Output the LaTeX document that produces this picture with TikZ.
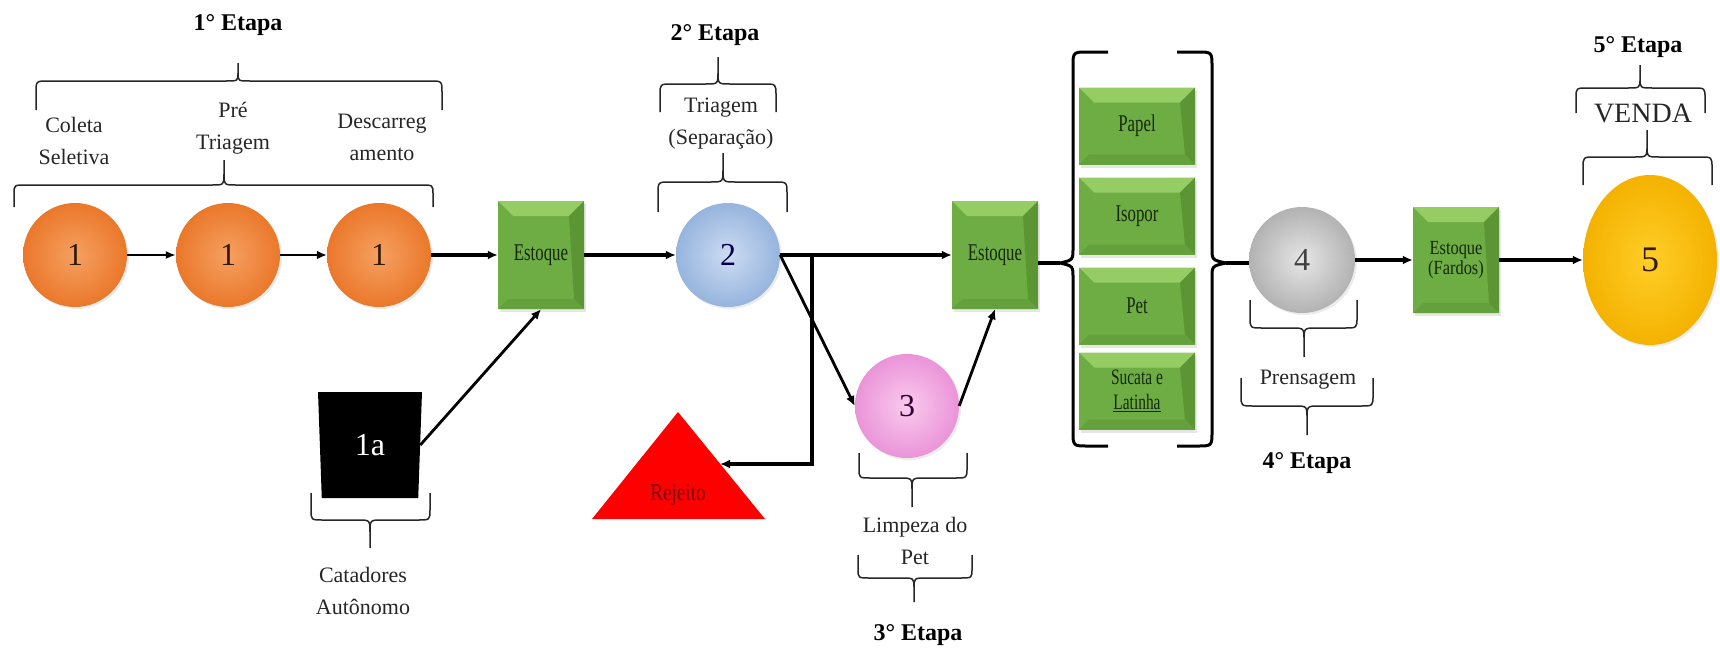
\documentclass[tikz,border=0pt]{standalone}
\usepackage{fontspec}
\setmainfont{Liberation Serif}
\usetikzlibrary{shapes.geometric,arrows.meta,shadows,calc}

\definecolor{orangeA}{RGB}{234,120,42}
\definecolor{orangeB}{RGB}{246,160,98}
\definecolor{blueA}{RGB}{150,180,222}
\definecolor{blueB}{RGB}{205,220,242}
\definecolor{pinkA}{RGB}{234,148,216}
\definecolor{pinkB}{RGB}{250,202,238}
\definecolor{grayA}{RGB}{178,178,178}
\definecolor{grayB}{RGB}{230,230,230}
\definecolor{goldA}{RGB}{244,178,0}
\definecolor{goldB}{RGB}{255,206,40}
\definecolor{greenA}{RGB}{110,172,68}
\definecolor{greenB}{RGB}{150,204,100}
\definecolor{greenC}{RGB}{100,160,60}
\definecolor{greenD}{RGB}{92,150,52}
\definecolor{boxtext}{RGB}{22,40,12}
\definecolor{rejtext}{RGB}{120,0,0}

% horizontally squeezed label text for the boxes
\newcommand{\sqz}[2][0.7]{\scalebox{#1}[1]{#2}}

% curly brace: x-left, x-right, x-cusp, y-ends, y-bar, y-cusp
\newcommand{\stagebrace}[6]{%
  \draw[bracestyle] (#1,#4) -- (#1,{#5+0.4*(#4-#5)})
    .. controls (#1,#5) .. ({#1+12},#5) -- ({#3-12},#5)
    .. controls (#3,#5) .. (#3,{#5+0.45*(#6-#5)}) -- (#3,#6)
    (#3,{#5+0.45*(#6-#5)}) .. controls (#3,#5) .. ({#3+12},#5)
    -- ({#2-12},#5) .. controls (#2,#5) .. (#2,{#5+0.4*(#4-#5)}) -- (#2,#4);}

\begin{document}
\begin{tikzpicture}[x=1pt,y=-1pt,
  bracestyle/.style={draw=black!85, line width=1.5pt},
  lbl/.style={align=center, inner sep=0pt, font=\fontsize{22}{32}\selectfont, text=black!85},
  etapa/.style={inner sep=0pt, font=\bfseries\fontsize{24}{26}\selectfont},
  ball/.style={circle, minimum size=104pt, inner sep=0pt,
    font=\fontsize{32}{32}\selectfont,
    drop shadow={opacity=0.15, shadow xshift=2pt, shadow yshift=-2pt}},
  orangeball/.style={ball, inner color=orangeB, outer color=orangeA, text=black!80!orange},
  blueball/.style={ball, inner color=blueB, outer color=blueA, text=blue!30!black},
  pinkball/.style={ball, inner color=pinkB, outer color=pinkA, text=violet!40!black},
  grayball/.style={ball, minimum size=106pt, inner color=grayB, outer color=grayA, text=black!75},
  goldball/.style={ball, ellipse, minimum width=134pt, minimum height=170pt,
    inner color=goldB, outer color=goldA, text=black!80!orange, font=\fontsize{36}{36}\selectfont},
  greenbox/.style={rectangle, fill=greenA, minimum width=86pt, minimum height=108pt,
    inner sep=0pt, text=boxtext, font=\fontsize{24}{24}\selectfont, align=center,
    drop shadow={opacity=0.2, shadow xshift=2pt, shadow yshift=-3pt},
    path picture={
      \path (path picture bounding box.north west) coordinate (bvNW)
            (path picture bounding box.north east) coordinate (bvNE)
            (path picture bounding box.south west) coordinate (bvSW)
            (path picture bounding box.south east) coordinate (bvSE);
      \fill[greenB] (bvNW) -- (bvNE) -- ([xshift=-15pt,yshift=-15pt]bvNE)
                    -- ([xshift=15pt,yshift=-15pt]bvNW) -- cycle;
      \fill[greenC] (bvSW) -- (bvSE) -- ([xshift=-10pt,yshift=10pt]bvSE)
                    -- ([xshift=10pt,yshift=10pt]bvSW) -- cycle;
      \fill[greenD] (bvNE) -- (bvSE) -- ([xshift=-10pt,yshift=10pt]bvSE)
                    -- ([xshift=-15pt,yshift=-15pt]bvNE) -- cycle;
    }},
  matbox/.style={greenbox, minimum width=116pt, minimum height=77pt},
  thinarrow/.style={draw=black, line width=1.7pt, -{Latex[length=10pt,width=8pt]}},
  medarrow/.style={draw=black, line width=2.8pt, -{Latex[length=10pt,width=9pt]}},
  bigarrow/.style={draw=black, line width=3.4pt, -{Latex[length=10pt,width=9pt]}},
  diagarrow/.style={draw=black, line width=2.8pt, -{Latex[length=10pt,width=9pt]}},
  bigline/.style={draw=black, line width=3.4pt},
  bracket/.style={draw=black, line width=3pt}
]
\useasboundingbox (0,0) rectangle (1720,653);

% ---------- stage 1 ----------
\node[orangeball] (c1a) at (75,255) {1};
\node[orangeball] (c1b) at (228,255) {1};
\node[orangeball] (c1c) at (379,255) {1};
\node[greenbox] (est1) at (541,255) {\sqz{Estoque}};

\node[etapa] (e1) at (238,25) {1° Etapa};
\stagebrace{36}{442}{238}{110}{81}{63}
\node[lbl] (coleta) at (74,141) {Coleta\\Seletiva};
\node[lbl] (pretri) at (233,128) {Pré\\Triagem};
\node[lbl] (descar) at (382,137) {Descarreg\\amento};
\stagebrace{14}{433}{224}{207}{185}{160}

% autonomous collectors
\node[trapezium, trapezium angle=100, trapezium stretches body, fill=black,
      minimum width=104pt, minimum height=106pt, inner sep=0pt, text=white,
      font=\fontsize{32}{32}\selectfont] (cat) at (370,445) {1a};
\stagebrace{311}{430}{370}{493}{520}{548}
\node[lbl] (catlbl) at (363,591) {Catadores\\Autônomo};

% ---------- stage 2 ----------
\node[blueball] (c2) at (728,255) {2};
\node[etapa] (e2) at (715,35) {2° Etapa};
\stagebrace{660}{776}{718}{112}{84}{57}
\node[lbl] (triag) at (721,124) {Triagem\\(Separação)};
\stagebrace{658}{787}{723}{212}{182}{153}

% reject
\fill[red] (678,412) -- (765,519) -- (592,519) -- cycle;
\node[inner sep=0pt, text=rejtext, font=\fontsize{24}{24}\selectfont] (rej) at (678,495) {\sqz[0.8]{Rejeito}};
\coordinate (rejR) at (720,464);
\coordinate (jn) at (812,255);

% ---------- stage 3 ----------
\node[pinkball] (c3) at (907,406) {3};
\stagebrace{859}{967}{912}{453}{478}{507}
\node[lbl] (limp) at (915,541) {Limpeza do\\Pet};
\stagebrace{858}{972}{914}{555}{578}{602}
\node[etapa] (e3) at (918,635) {3° Etapa};

\node[greenbox] (est2) at (995,255) {\sqz{Estoque}};

% sorted materials
\node[matbox] (papel) at (1137,126) {\sqz{Papel}};
\node[matbox] (isopor) at (1137,216) {\sqz{Isopor}};
\node[matbox] (pet) at (1137,306) {\sqz{Pet}};
\node[matbox, font=\fontsize{22}{25}\selectfont] (sucata) at (1137,391)
     {\sqz{Sucata e}\\\sqz{\underline{Latinha}}};

\coordinate (lcusp) at (1060,263);
\coordinate (rcusp) at (1226,263);
\draw[bracket] (1108,52) -- (1088,52) .. controls (1073,52) .. (1073,67) -- (1073,248)
  .. controls (1073,260) .. (lcusp) .. controls (1073,266) .. (1073,278) -- (1073,431)
  .. controls (1073,446) .. (1088,446) -- (1108,446);
\draw[bracket] (1177,52) -- (1197,52) .. controls (1212,52) .. (1212,67) -- (1212,248)
  .. controls (1212,260) .. (rcusp) .. controls (1212,266) .. (1212,278) -- (1212,431)
  .. controls (1212,446) .. (1197,446) -- (1177,446);

% ---------- stage 4 ----------
\node[grayball] (c4) at (1302,260) {4};
\stagebrace{1250}{1357}{1304}{300}{328}{357}
\node[lbl] (prens) at (1308,380) {Prensagem};
\stagebrace{1241}{1373}{1307}{378}{406}{435}
\node[etapa] (e4) at (1307,463) {4° Etapa};

\node[greenbox, minimum height=106pt, font=\fontsize{20}{20}\selectfont] (fardos) at (1456,260)
     {\sqz[0.82]{Estoque}\\\sqz[0.82]{(Fardos)}};

% ---------- stage 5 ----------
\node[goldball] (c5) at (1650,260) {5};
\node[etapa] (e5) at (1638,47) {5° Etapa};
\stagebrace{1576}{1705}{1640}{113}{88}{65}
\node[lbl, font=\fontsize{28}{30}\selectfont] (venda) at (1643,113) {VENDA};
\stagebrace{1583}{1712}{1647}{185}{157}{130}

% ---------- connectors ----------
\draw[thinarrow] (c1a) -- (c1b);
\draw[medarrow] (c1b) -- (c1c);
\draw[bigarrow] (c1c) -- (est1);
\draw[diagarrow] (cat.east) -- (est1.south);
\draw[bigarrow] (est1) -- (c2);
\draw[bigarrow] (c2.east) -- (est2.west);
\draw[bigline, -{Latex[length=10pt,width=9pt]}] (jn) |- (rejR);
\draw[diagarrow] (c2.east) -- (c3.west);
\draw[diagarrow] (c3.east) -- (est2.south);
\draw[bigline] (est2.east |- lcusp) -- (lcusp);
\draw[bigline] (rcusp) -- (c4.west |- rcusp);
\draw[bigarrow] (c4) -- (fardos);
\draw[bigarrow] (fardos) -- (c5);
\end{tikzpicture}
\end{document}
